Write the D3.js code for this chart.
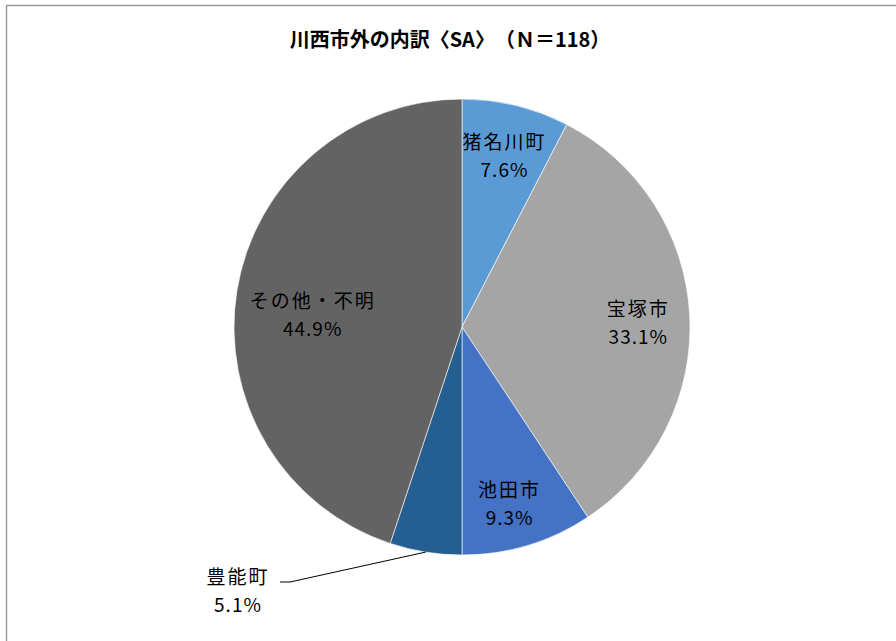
<!DOCTYPE html>
<html>
<head>
<meta charset="utf-8">
<script src="https://cdn.jsdelivr.net/npm/d3@7"></script>
<style>
  body { margin: 0; background: #fff; }
  text { font-family: "Noto Sans CJK JP", "Noto Sans", sans-serif; }
</style>
</head>
<body>
<div id="chart"></div>
<script>
// data
var names = ['猪名川町', '宝塚市', '池田市', '豊能町', 'その他・不明'];
var values = [7.6, 33.1, 9.3, 5.1, 44.9];
var colors = ['#5B9BD5', '#A5A5A5', '#4472C4', '#255E91', '#636363'];
var title = '川西市外の内訳〈SA〉　（Ｎ＝118）';

var sWidth = 896;
var sHeight = 641;
var cx = 462, cy = 327, radius = 228;

// label tweaks (pixels from centroid at 0.77R)
var labelShift = {
    '猪名川町': [1, -7],
    '宝塚市': [1, -2],
    '池田市': [-3, 2],
    'その他・不明': [24, 9]
};

var svg = d3.select('#chart')
    .append('svg')
    .attr('width', sWidth)
    .attr('height', sHeight);

// frame
svg.append('rect')
    .attr('x', 6.5)
    .attr('y', 5.5)
    .attr('width', sWidth + 10)
    .attr('height', sHeight + 10)
    .attr('fill', 'none')
    .attr('stroke', '#9a9a9a')
    .attr('stroke-width', 1.5);

svg.append('text')
    .attr('x', 450)
    .attr('y', 47)
    .attr('text-anchor', 'middle')
    .style('font-size', '20px')
    .style('font-weight', 'bold')
    .text(title);

var pieData = names.map((n, i) => ({ name: n, value: values[i], color: colors[i] }));

var pie = d3.pie().sort(null).value(d => d.value);
var arcs = pie(pieData);

var arc = d3.arc().innerRadius(0).outerRadius(radius);
var labelArc = d3.arc().innerRadius(radius * 0.77).outerRadius(radius * 0.77);

var g = svg.append('g')
    .attr('transform', `translate(${cx}, ${cy})`);

g.selectAll('path')
    .data(arcs)
    .enter()
    .append('path')
    .attr('d', arc)
    .attr('fill', d => d.data.color)
    .attr('stroke', '#fff')
    .attr('stroke-width', 0.6);

function addLabel(x, y, d) {
    var t = g.append('text')
        .attr('text-anchor', 'middle')
        .style('font-size', '19px')
        .attr('fill', '#000');
    t.append('tspan')
        .attr('x', x)
        .attr('y', y)
        .style('letter-spacing', '2px')
        .text(d.data.name);
    t.append('tspan')
        .attr('x', x)
        .attr('y', y + 28)
        .style('letter-spacing', '1px')
        .text(d.data.value.toFixed(1) + '%');
}

// inside labels
arcs.forEach(function(d) {
    if (d.data.name === '豊能町') return;
    var c = labelArc.centroid(d);
    var s = labelShift[d.data.name] || [0, 0];
    addLabel(c[0] + s[0], c[1] + s[1], d);
});

// outside label with leader line
var small = arcs.find(d => d.data.name === '豊能町');
var mid = (small.startAngle + small.endAngle) / 2;
var edge = [radius * Math.sin(mid), -radius * Math.cos(mid)];
var lx = 280 - cx, ly = 582 - cy;

g.append('polyline')
    .attr('points', [[edge[0], edge[1]], [lx + 10, ly], [lx, ly]].map(p => p.join(',')).join(' '))
    .attr('fill', 'none')
    .attr('stroke', '#000')
    .attr('stroke-width', 1);

addLabel(lx - 42, ly + 2, small);
</script>
</body>
</html>
